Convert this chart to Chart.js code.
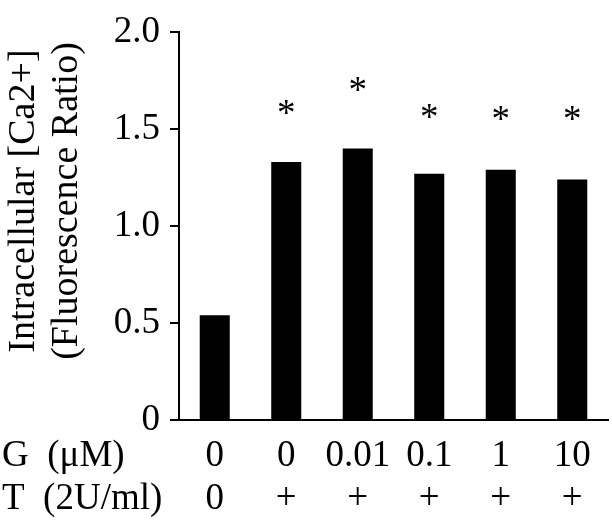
<!DOCTYPE html>
<html>
<head>
<meta charset="utf-8">
<script src="https://cdn.jsdelivr.net/npm/chart.js@4/dist/chart.umd.min.js"></script>
<style>
    body { margin: 0; background: #fff; }
    #wrap { width: 612px; height: 523px; }
</style>
</head>
<body>
<div id="wrap"><canvas id="myChart" width="612" height="523"></canvas></div>
<script>
// بيانات الرسم
const gLabels = ['0', '0', '0.01', '0.1', '1', '10'];
const tLabels = ['0', '+', '+', '+', '+', '+'];
const ratioValues = [0.54, 1.33, 1.40, 1.27, 1.29, 1.24];
const starValues = [null, 1.61, 1.73, 1.59, 1.58, 1.58];
const yTicks = [0, 0.5, 1.0, 1.5, 2.0];
const yTickLabels = ['0', '0.5', '1.0', '1.5', '2.0'];
const rowLabels = ['G  (\u03bcM)', 'T  (2U/ml)'];
const yTitle = ['Intracellular [Ca2+]', '(Fluorescence Ratio)'];

const FONT = '"Liberation Serif", "Times New Roman", serif';
const FSIZE = 37;
const TITLE_SIZE = 38;
const LINE_H = 43;
const X_PAD = 15;

// نجوم الدلالة + عناوين المحاور
const extrasPlugin = {
    id: 'extras',
    afterDraw(chart) {
        const ctx = chart.ctx;
        const x = chart.scales.x;
        const y = chart.scales.y;
        ctx.save();
        ctx.fillStyle = '#000';
        ctx.font = FSIZE + 'px ' + FONT;

        // asterisks above bars
        ctx.textAlign = 'center';
        ctx.textBaseline = 'alphabetic';
        const m = ctx.measureText('*');
        const off = (m.actualBoundingBoxAscent - m.actualBoundingBoxDescent) / 2;
        starValues.forEach(function(v, i) {
            if (v === null) return;
            ctx.fillText('*', x.getPixelForValue(i), y.getPixelForValue(v) + off);
        });

        // row labels on the left of the category rows
        ctx.textAlign = 'left';
        ctx.textBaseline = 'middle';
        rowLabels.forEach(function(t, i) {
            ctx.fillText(t, 2, x.top + X_PAD + LINE_H / 2 + i * LINE_H);
        });

        // y axis title, two rotated lines
        ctx.font = TITLE_SIZE + 'px ' + FONT;
        ctx.translate(0, 201);
        ctx.rotate(-Math.PI / 2);
        ctx.textAlign = 'center';
        ctx.fillText(yTitle[0], 0, 24);
        ctx.fillText(yTitle[1], 0, 67);
        ctx.restore();
    }
};

document.addEventListener('DOMContentLoaded', function() {
    const ctx = document.getElementById('myChart').getContext('2d');
    const myChart = new Chart(ctx, {
        type: 'bar',
        data: {
            labels: gLabels.map(function(g, i) { return [g, tLabels[i]]; }),
            datasets: [{
                data: ratioValues,
                backgroundColor: '#000',
                borderWidth: 0,
                categoryPercentage: 1,
                barPercentage: 0.42
            }]
        },
        options: {
            responsive: false,
            animation: false,
            layout: { padding: { left: 0, top: 27, right: 4, bottom: 0 } },
            plugins: {
                legend: { display: false },
                tooltip: { enabled: false }
            },
            scales: {
                x: {
                    grid: { display: false, drawTicks: false },
                    border: { color: '#000', width: 2 },
                    ticks: {
                        color: '#000',
                        padding: X_PAD,
                        maxRotation: 0,
                        autoSkip: false,
                        font: { family: FONT, size: FSIZE, lineHeight: LINE_H / FSIZE }
                    },
                    afterFit: function(scale) { scale.height = 523 - 420; }
                },
                y: {
                    min: 0,
                    max: 2,
                    grid: {
                        drawOnChartArea: false,
                        drawTicks: true,
                        tickLength: 9,
                        tickColor: '#000',
                        lineWidth: 2
                    },
                    border: { color: '#000', width: 2 },
                    afterBuildTicks: function(scale) {
                        scale.ticks = yTicks.map(function(v) { return { value: v }; });
                    },
                    ticks: {
                        color: '#000',
                        padding: 10,
                        font: { family: FONT, size: FSIZE },
                        callback: function(v) {
                            const i = yTicks.indexOf(v);
                            return i >= 0 ? yTickLabels[i] : '';
                        }
                    },
                    afterFit: function(scale) { scale.width = 179; }
                }
            }
        },
        plugins: [extrasPlugin]
    });
});
</script>
</body>
</html>
